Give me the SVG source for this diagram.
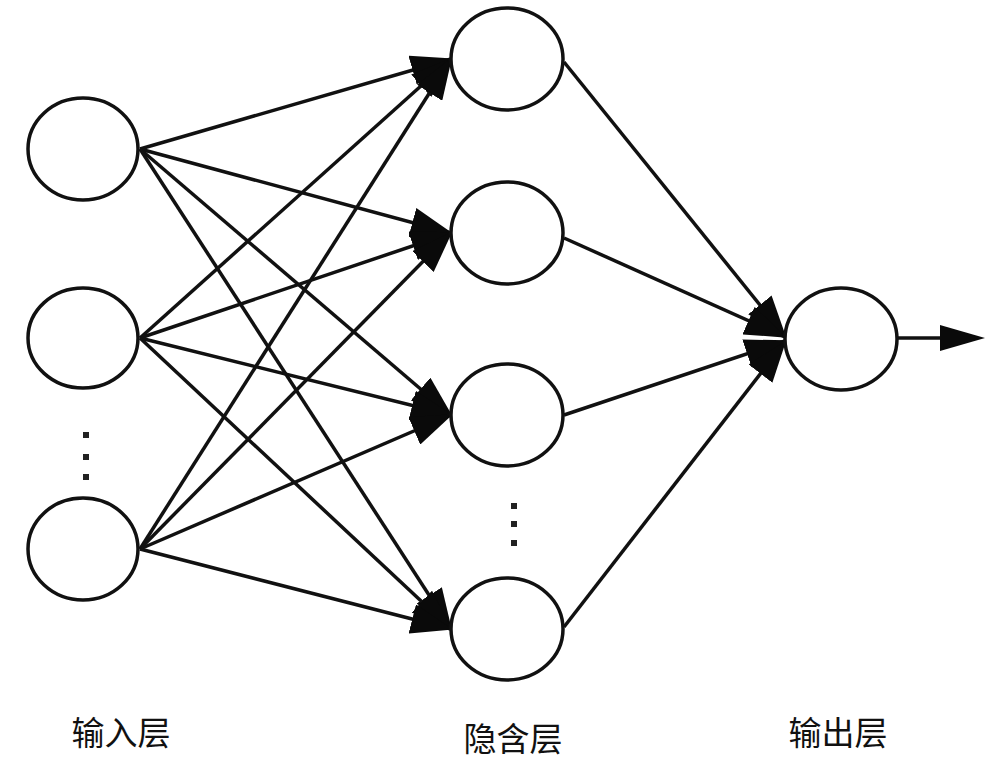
<svg xmlns="http://www.w3.org/2000/svg" width="1000" height="768" viewBox="0 0 1000 768">
<style>
.node{fill:#fff;stroke:#111;stroke-width:3.5}
.edge{stroke:#111;stroke-width:3.5;fill:none;marker-end:url(#ah)}
.dot{fill:#222}
.lbl{font-family:"Noto Sans CJK SC","Liberation Serif",sans-serif;font-size:33px;fill:#111;text-anchor:middle}
</style>
<defs>
<marker id="ah" viewBox="0 0 42 30" refX="40" refY="15" markerWidth="42" markerHeight="30" orient="auto" markerUnits="userSpaceOnUse">
<path d="M0,0 L42,15 L0,30 z" fill="#0a0a0a"/>
</marker>
</defs>
<rect width="1000" height="768" fill="#fff"/>
<g id="connectors">
<line class="edge" x1="140" y1="149" x2="451" y2="59"/>
<line class="edge" x1="140" y1="149" x2="451" y2="233"/>
<line class="edge" x1="140" y1="149" x2="451" y2="415"/>
<line class="edge" x1="140" y1="149" x2="451" y2="629"/>
<line class="edge" x1="140" y1="338" x2="451" y2="59"/>
<line class="edge" x1="140" y1="338" x2="451" y2="233"/>
<line class="edge" x1="140" y1="338" x2="451" y2="415"/>
<line class="edge" x1="140" y1="338" x2="451" y2="629"/>
<line class="edge" x1="140" y1="549" x2="451" y2="59"/>
<line class="edge" x1="140" y1="549" x2="451" y2="233"/>
<line class="edge" x1="140" y1="549" x2="451" y2="415"/>
<line class="edge" x1="140" y1="549" x2="451" y2="629"/>
<line class="edge" x1="564" y1="62" x2="785" y2="336"/>
<line class="edge" x1="564" y1="238" x2="785" y2="337"/>
<line class="edge" x1="564" y1="415" x2="785" y2="341"/>
<line class="edge" x1="564" y1="627" x2="785" y2="342"/>
<line stroke="#111" stroke-width="3.5" x1="898" y1="338" x2="945" y2="338"/>
<path d="M940,325 L985,338 L940,351 z" fill="#0a0a0a"/>
</g>
<g id="input1"><ellipse class="node" cx="83" cy="149" rx="55" ry="51"/></g>
<g id="input2"><ellipse class="node" cx="83" cy="338" rx="55" ry="50"/></g>
<g id="input3"><ellipse class="node" cx="83" cy="549" rx="55" ry="51"/></g>
<g id="input-dots">
<rect class="dot" x="83" y="432" width="6" height="6"/>
<rect class="dot" x="83" y="454" width="6" height="6"/>
<rect class="dot" x="83" y="474" width="6" height="6"/>
</g>
<g id="hidden1"><ellipse class="node" cx="507" cy="59" rx="56" ry="51"/></g>
<g id="hidden2"><ellipse class="node" cx="507" cy="233" rx="56" ry="51"/></g>
<g id="hidden3"><ellipse class="node" cx="507" cy="415" rx="56" ry="51"/></g>
<g id="hidden4"><ellipse class="node" cx="507" cy="629" rx="56" ry="51"/></g>
<g id="hidden-dots">
<rect class="dot" x="511" y="503" width="6" height="6"/>
<rect class="dot" x="511" y="521" width="6" height="6"/>
<rect class="dot" x="511" y="540" width="6" height="6"/>
</g>
<g id="output"><ellipse class="node" cx="841" cy="339" rx="56" ry="51"/></g>
<g id="labels">
<text class="lbl" x="121" y="745">输入层</text>
<text class="lbl" x="513" y="751">隐含层</text>
<text class="lbl" x="838" y="745">输出层</text>
</g>
</svg>
